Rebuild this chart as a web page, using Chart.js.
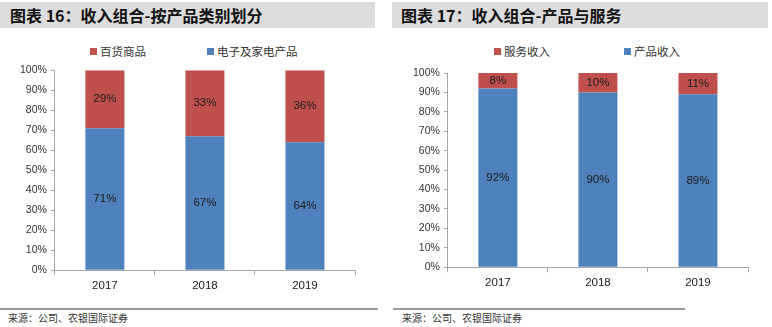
<!DOCTYPE html>
<html>
<head>
<meta charset="utf-8">
<script src="https://cdn.jsdelivr.net/npm/chart.js@4/dist/chart.umd.min.js"></script>
<style>
  body { margin: 0; width: 772px; height: 327px; background: #fff; position: relative; overflow: hidden; font-family: "Noto Sans CJK SC", sans-serif; }
  .title { position: absolute; top: 2px; height: 26px; background: #dcdcdc; font-weight: bold; font-size: 16px; line-height: 26px; color: #111; }
  .box { position: absolute; }
  .legend { position: absolute; top: 43px; font-size: 11.5px; color: #333; white-space: nowrap; }
  .legend span.sw { display: inline-block; width: 7px; height: 7px; margin-right: 3px; vertical-align: 1px; }
  .legend span.it { position: absolute; }
  .rule { position: absolute; top: 308px; height: 2px; background: #9a9a9a; }
  .src { position: absolute; top: 310px; font-size: 10px; color: #333; }
</style>
</head>
<body>
<div class="title" style="left:0;width:375px;padding-left:10px;box-sizing:border-box">图表 16：收入组合-按产品类别划分</div>
<div class="title" style="left:392px;width:376px;padding-left:9px;box-sizing:border-box">图表 17：收入组合-产品与服务</div>

<div class="legend" id="leg1" style="left:0"></div>
<div class="legend" id="leg2" style="left:386px"></div>

<div class="box" style="left:0;top:60px;width:378px;height:240px"><canvas id="c1"></canvas></div>
<div class="box" style="left:386px;top:58px;width:386px;height:240px"><canvas id="c2"></canvas></div>

<div class="rule" style="left:0;width:378px"></div>
<div class="rule" style="left:393px;width:292px"></div>
<div class="src" style="left:8px">来源：公司、农银国际证券</div>
<div class="src" style="left:402px">来源：公司、农银国际证券</div>

<script>
const years = ['2017', '2018', '2019']

// 图表16
const electronics = [71, 67, 64]
const merchandise = [29, 33, 36]
// 图表17
const productIncome = [92, 90, 89]
const serviceIncome = [8, 10, 11]

const BLUE = '#4f81bd'
const RED = '#c0504d'

const barLabels = {
  id: 'barLabels',
  afterDatasetsDraw(chart) {
    const ctx = chart.ctx
    ctx.save()
    ctx.font = '11.5px "Liberation Sans", Arial, sans-serif'
    ctx.fillStyle = '#1a1a1a'
    ctx.textAlign = 'center'
    ctx.textBaseline = 'middle'
    chart.data.datasets.forEach((ds, i) => {
      chart.getDatasetMeta(i).data.forEach((bar, j) => {
        const p = bar.getProps(['x', 'y', 'base'], true)
        ctx.fillText(ds.data[j] + '%', p.x, (p.y + p.base) / 2)
      })
    })
    ctx.restore()
  }
}

function legendHtml(el, items) {
  el.innerHTML = items.map(it =>
    `<span class="it" style="left:${it.x}px"><span class="sw" style="background:${it.color}"></span>${it.label}</span>`
  ).join('')
}

function makeChart(id, bottom, top, bottomLabel, topLabel, pad) {
  return new Chart(document.getElementById(id), {
    type: 'bar',
    data: {
      labels: years,
      datasets: [
        { label: bottomLabel, data: bottom, backgroundColor: BLUE, barPercentage: 0.78, categoryPercentage: 0.5 },
        { label: topLabel, data: top, backgroundColor: RED, barPercentage: 0.78, categoryPercentage: 0.5 }
      ]
    },
    options: {
      responsive: true,
      maintainAspectRatio: false,
      animation: false,
      layout: { padding: pad },
      plugins: {
        legend: { display: false },
        tooltip: { enabled: false }
      },
      scales: {
        x: {
          stacked: true,
          grid: { offset: true, drawOnChartArea: false, tickLength: 5, color: '#a6a6a6' },
          border: { color: '#a6a6a6' },
          ticks: { color: '#1a1a1a', font: { family: '"Liberation Sans Narrow", "Liberation Sans", Arial', size: 11.5 }, padding: 4 }
        },
        y: {
          stacked: true,
          min: 0,
          max: 100,
          grid: { drawOnChartArea: false, tickLength: 4, color: '#a6a6a6' },
          border: { color: '#a6a6a6' },
          ticks: {
            stepSize: 10,
            color: '#333',
            padding: 4,
            font: { family: '"Liberation Sans", Arial', size: 10.5 },
            callback: v => v + '%'
          }
        }
      }
    },
    plugins: [barLabels]
  })
}

legendHtml(document.getElementById('leg1'), [
  { x: 90, color: RED, label: '百货商品' },
  { x: 207, color: BLUE, label: '电子及家电产品' }
])
legendHtml(document.getElementById('leg2'), [
  { x: 108, color: RED, label: '服务收入' },
  { x: 238, color: BLUE, label: '产品收入' }
])

makeChart('c1', electronics, merchandise, '电子及家电产品', '百货商品', { left: 16, right: 23, top: 6, bottom: 3 })
makeChart('c2', productIncome, serviceIncome, '产品收入', '服务收入', { left: 23, right: 24, top: 15, bottom: 4 })
</script>
</body>
</html>
